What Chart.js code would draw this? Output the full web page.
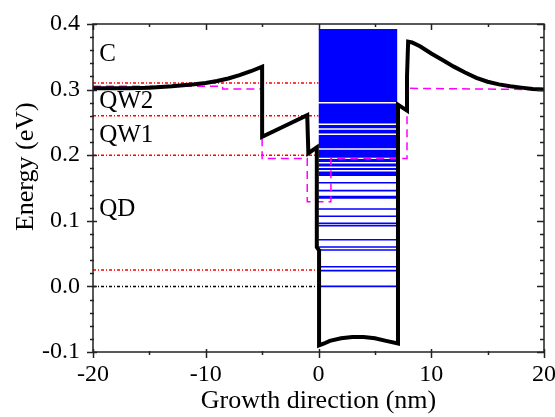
<!DOCTYPE html>
<html>
<head>
<meta charset="utf-8">
<script src="https://cdn.jsdelivr.net/npm/chart.js@4.4.0/dist/chart.umd.min.js"></script>
<style>
  html, body { margin: 0; padding: 0; background: #fff; }
  #wrap { width: 555px; height: 417px; }
</style>
</head>
<body>
<div id="wrap"><canvas id="myChart" width="555" height="417"></canvas></div>
<script>
// conduction band profile (thick black)
var profileX = [-20, -17, -15, -13, -11, -10, -9, -8, -7, -6, -5, -5, -3, -1, -0.9, -0.15, -0.15, 0.05, 0.05,
                0.5, 1, 2, 3, 4, 5, 6, 7.05, 7.05, 7.85, 7.85, 7.95, 8.3, 9, 10, 11, 12, 13, 14, 15, 16, 17, 18, 19, 20];
var profileE = [0.302, 0.302, 0.303, 0.305, 0.308, 0.310, 0.313, 0.317, 0.322, 0.328, 0.335, 0.228, 0.2445, 0.261, 0.203, 0.212, 0.06, 0.055, -0.090,
                -0.087, -0.083, -0.079, -0.077, -0.077, -0.079, -0.083, -0.087, 0.277, 0.268, 0.32, 0.373, 0.372, 0.366, 0.355, 0.345, 0.335, 0.326, 0.318, 0.312, 0.308, 0.305, 0.303, 0.301, 0.300];

// magenta dashed profile
var dashX = [-20, -8.5, -8.5, -5, -5, -1.0, -1.0, 1.1, 1.1, 7.85, 7.85, 20];
var dashE = [0.305, 0.305, 0.301, 0.301, 0.195, 0.195, 0.129, 0.129, 0.195, 0.195, 0.302, 0.300];

// red dotted reference levels, black dotted zero level
var refLevels = [0.31, 0.26, 0.20, 0.025];
var zeroLevel = [0.0];
var refFrom = -20, refTo = 0;

// dot energy levels (blue), x extent of the dot
var dotFrom = 0, dotTo = 7;
var denseBands = [
  [0.2811, 0.3924], [0.2483, 0.2788], [0.2410, 0.2460], [0.2329, 0.2387],
  [0.2105, 0.2308], [0.1963, 0.2082], [0.1896, 0.1942], [0.1826, 0.1873],
  [0.1774, 0.1805], [0.1683, 0.1752]
];
var dotLevels = [0.158, 0.146, 0.137, 0.135, 0.118, 0.107, 0.096, 0.0925, 0.071, 0.060, 0.0555, 0.030, 0.024, 0.000];

// annotations
var noteText = ['C', 'QW2', 'QW1', 'QD'];
var noteX = [-19.45, -19.45, -19.45, -19.45];
var noteE = [0.343, 0.272, 0.220, 0.107];

var xMin = -20, xMax = 20, xStep = 10, xMinor = 5;
var yMin = -0.1, yMax = 0.4, yStep = 0.1, yMinor = 0.02;

function pts(xs, ys) {
    var out = [];
    for (var i = 0; i < xs.length; i++) out.push({x: xs[i], y: ys[i]});
    return out;
}

var datasets = [];
datasets.push({
    data: pts(profileX, profileE), borderColor: '#000', borderWidth: 4,
    pointRadius: 0, fill: false, order: 0, borderJoinStyle: 'miter'
});
datasets.push({
    data: pts(dashX, dashE), borderColor: '#ff00ff', borderWidth: 1.5, borderDash: [8, 5],
    pointRadius: 0, fill: false, order: 1
});
refLevels.forEach(function(v) {
    datasets.push({
        data: [{x: refFrom, y: v}, {x: refTo, y: v}], borderColor: '#ff0000', borderWidth: 1.5,
        borderDash: [3, 2, 1, 2], pointRadius: 0, fill: false, order: 2
    });
});
zeroLevel.forEach(function(v) {
    datasets.push({
        data: [{x: refFrom, y: v}, {x: refTo, y: v}], borderColor: '#000', borderWidth: 1.5,
        borderDash: [3, 2, 1, 2], pointRadius: 0, fill: false, order: 2
    });
});
dotLevels.forEach(function(v) {
    datasets.push({
        data: [{x: dotFrom, y: v}, {x: dotTo, y: v}], borderColor: '#0000ff', borderWidth: 1.6,
        pointRadius: 0, fill: false, order: 3
    });
});
denseBands.forEach(function(b) {
    datasets.push({
        data: [{x: dotFrom, y: b[1]}, {x: dotTo, y: b[1]}], borderWidth: 0, borderColor: 'rgba(0,0,0,0)',
        backgroundColor: '#0000ff', pointRadius: 0, fill: {value: b[0]}, order: 4
    });
});

var serif = '"Liberation Serif", "Times New Roman", serif';

function noPad(s) {
    s.paddingLeft = 0; s.paddingRight = 0; s.paddingTop = 0; s.paddingBottom = 0;
}

var decor = {
    id: 'decor',
    afterDatasetsDraw: function(chart) {
        var ctx = chart.ctx, a = chart.chartArea, sx = chart.scales.x, sy = chart.scales.y;
        ctx.save();
        ctx.strokeStyle = '#222';
        ctx.lineWidth = 1.5;
        ctx.strokeRect(a.left, a.top, a.right - a.left, a.bottom - a.top);

        ctx.beginPath();
        var v, p, major;
        for (v = xMin; v <= xMax + 1e-9; v += xMinor) {
            p = Math.round(sx.getPixelForValue(v)) + 0.5;
            major = Math.abs(v / xStep - Math.round(v / xStep)) < 1e-6;
            ctx.moveTo(p, a.bottom + (major ? 6 : 3));
            ctx.lineTo(p, a.bottom - (major ? 3 : 1));
            ctx.moveTo(p, a.top);
            ctx.lineTo(p, a.top + (major ? 6 : 3));
        }
        for (v = yMin; v <= yMax + 1e-9; v += yMinor) {
            p = Math.round(sy.getPixelForValue(v)) + 0.5;
            major = Math.abs(v / yStep - Math.round(v / yStep)) < 1e-6;
            ctx.moveTo(a.left - (major ? 6 : 3), p);
            ctx.lineTo(a.left + (major ? 4 : 1), p);
            ctx.moveTo(a.right, p);
            ctx.lineTo(a.right - (major ? 7 : 4), p);
        }
        ctx.stroke();

        ctx.fillStyle = '#000';
        ctx.font = '25px ' + serif;
        ctx.textAlign = 'left';
        ctx.textBaseline = 'alphabetic';
        for (var i = 0; i < noteText.length; i++) {
            ctx.fillText(noteText[i], sx.getPixelForValue(noteX[i]), sy.getPixelForValue(noteE[i]));
        }

        // y axis title
        ctx.font = '26px ' + serif;
        ctx.translate(33, a.top + (a.bottom - a.top) * 0.435);
        ctx.rotate(-Math.PI / 2);
        ctx.textAlign = 'center';
        ctx.fillText('Energy (eV)', 0, 0);
        ctx.restore();
    }
};

var ctx = document.getElementById('myChart').getContext('2d');
var myChart = new Chart(ctx, {
    type: 'line',
    data: { datasets: datasets },
    options: {
        responsive: false,
        animation: false,
        devicePixelRatio: 1,
        layout: { padding: { top: 24, right: 11, left: 9, bottom: 0 } },
        plugins: { legend: { display: false }, tooltip: { enabled: false } },
        elements: { line: { tension: 0 } },
        scales: {
            x: {
                type: 'linear', min: xMin, max: xMax,
                grid: { display: false, drawTicks: false },
                border: { display: false },
                ticks: { stepSize: xStep, padding: 8, color: '#000', font: { family: serif, size: 24 } },
                title: { display: true, text: 'Growth direction (nm)', color: '#000', font: { family: serif, size: 26 }, padding: 0 },
                afterFit: function(s) { s.height = 65; noPad(s); }
            },
            y: {
                type: 'linear', min: yMin, max: yMax,
                grid: { display: false, drawTicks: false },
                border: { display: false },
                ticks: {
                    stepSize: yStep, padding: 13, color: '#000', font: { family: serif, size: 24 },
                    callback: function(v) { return v.toFixed(1); }
                },
                afterFit: function(s) { s.width = 84; noPad(s); }
            }
        }
    },
    plugins: [decor]
});
</script>
</body>
</html>
